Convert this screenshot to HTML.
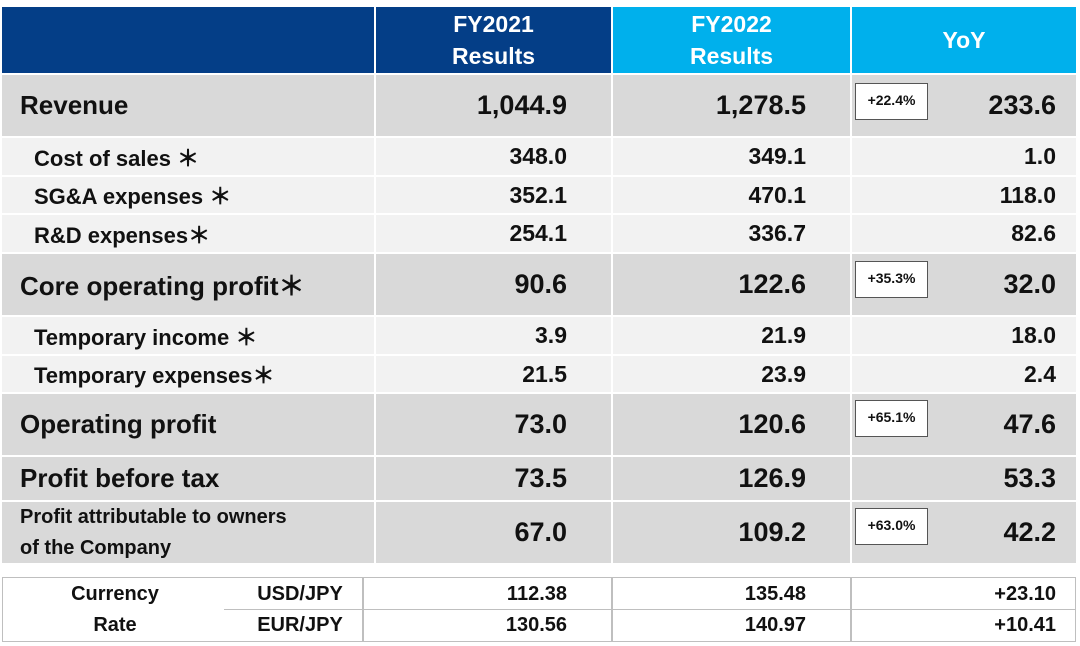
<!DOCTYPE html>
<html><head><meta charset="utf-8"><style>
body{margin:0;width:1080px;height:646px;background:#fff;position:relative;overflow:hidden;font-family:"Liberation Sans",sans-serif;font-weight:bold;color:#111}
div{position:absolute;box-sizing:border-box}
.c{display:flex;align-items:center;white-space:nowrap}
.h{color:#fff;justify-content:center;text-align:center;font-size:23px;line-height:32px}
.l{padding-left:18px}
.r{justify-content:flex-end;padding-right:44px}
.ry{justify-content:flex-end;padding-right:20px}
.box{background:#fff;border:1px solid #555;font-size:14px;display:flex;align-items:flex-start;padding-top:8px;justify-content:center;width:73px;height:37px}
.ln{background:#bfbfbf}
.big{font-size:26px}
.num{font-size:27px}
.sub{font-size:22px;padding-left:32px}
.sn{font-size:23px}
</style></head><body>
<div class="c h" style="left:2px;top:7px;width:372px;height:66px;background:#043e87"></div>
<div class="c h" style="left:376px;top:7px;width:235px;height:66px;background:#043e87">FY2021<br>Results</div>
<div class="c h" style="left:613px;top:7px;width:237px;height:66px;background:#00b0ec">FY2022<br>Results</div>
<div class="c h" style="left:852px;top:7px;width:224px;height:66px;background:#00b0ec">YoY</div>

<div class="c l big" style="left:2px;top:75px;width:372px;height:61px;background:#d9d9d9">Revenue</div>
<div class="c r num" style="left:376px;top:75px;width:235px;height:61px;background:#d9d9d9">1,044.9</div>
<div class="c r num" style="left:613px;top:75px;width:237px;height:61px;background:#d9d9d9">1,278.5</div>
<div class="c ry num" style="left:852px;top:75px;width:224px;height:61px;background:#d9d9d9">233.6</div>
<div class="box" style="left:855px;top:83px">+22.4%</div>

<div class="c l sub" style="left:2px;top:138px;width:372px;height:37px;background:#f2f2f2">Cost of sales ＊</div>
<div class="c r sn" style="left:376px;top:138px;width:235px;height:37px;background:#f2f2f2">348.0</div>
<div class="c r sn" style="left:613px;top:138px;width:237px;height:37px;background:#f2f2f2">349.1</div>
<div class="c ry sn" style="left:852px;top:138px;width:224px;height:37px;background:#f2f2f2">1.0</div>

<div class="c l sub" style="left:2px;top:177px;width:372px;height:36px;background:#f2f2f2">SG&amp;A expenses ＊</div>
<div class="c r sn" style="left:376px;top:177px;width:235px;height:36px;background:#f2f2f2">352.1</div>
<div class="c r sn" style="left:613px;top:177px;width:237px;height:36px;background:#f2f2f2">470.1</div>
<div class="c ry sn" style="left:852px;top:177px;width:224px;height:36px;background:#f2f2f2">118.0</div>

<div class="c l sub" style="left:2px;top:215px;width:372px;height:37px;background:#f2f2f2">R&amp;D expenses＊</div>
<div class="c r sn" style="left:376px;top:215px;width:235px;height:37px;background:#f2f2f2">254.1</div>
<div class="c r sn" style="left:613px;top:215px;width:237px;height:37px;background:#f2f2f2">336.7</div>
<div class="c ry sn" style="left:852px;top:215px;width:224px;height:37px;background:#f2f2f2">82.6</div>

<div class="c l big" style="left:2px;top:254px;width:372px;height:61px;background:#d9d9d9">Core operating profit＊</div>
<div class="c r num" style="left:376px;top:254px;width:235px;height:61px;background:#d9d9d9">90.6</div>
<div class="c r num" style="left:613px;top:254px;width:237px;height:61px;background:#d9d9d9">122.6</div>
<div class="c ry num" style="left:852px;top:254px;width:224px;height:61px;background:#d9d9d9">32.0</div>
<div class="box" style="left:855px;top:261px">+35.3%</div>

<div class="c l sub" style="left:2px;top:317px;width:372px;height:37px;background:#f2f2f2">Temporary income ＊</div>
<div class="c r sn" style="left:376px;top:317px;width:235px;height:37px;background:#f2f2f2">3.9</div>
<div class="c r sn" style="left:613px;top:317px;width:237px;height:37px;background:#f2f2f2">21.9</div>
<div class="c ry sn" style="left:852px;top:317px;width:224px;height:37px;background:#f2f2f2">18.0</div>

<div class="c l sub" style="left:2px;top:356px;width:372px;height:36px;background:#f2f2f2">Temporary expenses＊</div>
<div class="c r sn" style="left:376px;top:356px;width:235px;height:36px;background:#f2f2f2">21.5</div>
<div class="c r sn" style="left:613px;top:356px;width:237px;height:36px;background:#f2f2f2">23.9</div>
<div class="c ry sn" style="left:852px;top:356px;width:224px;height:36px;background:#f2f2f2">2.4</div>

<div class="c l big" style="left:2px;top:394px;width:372px;height:61px;background:#d9d9d9">Operating profit</div>
<div class="c r num" style="left:376px;top:394px;width:235px;height:61px;background:#d9d9d9">73.0</div>
<div class="c r num" style="left:613px;top:394px;width:237px;height:61px;background:#d9d9d9">120.6</div>
<div class="c ry num" style="left:852px;top:394px;width:224px;height:61px;background:#d9d9d9">47.6</div>
<div class="box" style="left:855px;top:400px">+65.1%</div>

<div class="c l big" style="left:2px;top:457px;width:372px;height:43px;background:#d9d9d9">Profit before tax</div>
<div class="c r num" style="left:376px;top:457px;width:235px;height:43px;background:#d9d9d9">73.5</div>
<div class="c r num" style="left:613px;top:457px;width:237px;height:43px;background:#d9d9d9">126.9</div>
<div class="c ry num" style="left:852px;top:457px;width:224px;height:43px;background:#d9d9d9">53.3</div>

<div class="c l" style="left:2px;top:502px;width:372px;height:61px;background:#d9d9d9;font-size:20px;line-height:31px;white-space:normal">Profit attributable to owners<br>of the Company</div>
<div class="c r num" style="left:376px;top:502px;width:235px;height:61px;background:#d9d9d9">67.0</div>
<div class="c r num" style="left:613px;top:502px;width:237px;height:61px;background:#d9d9d9">109.2</div>
<div class="c ry num" style="left:852px;top:502px;width:224px;height:61px;background:#d9d9d9">42.2</div>
<div class="box" style="left:855px;top:508px">+63.0%</div>

<div style="left:2px;top:577px;width:1074px;height:65px;border:1px solid #bfbfbf"></div>
<div class="ln" style="left:362px;top:577px;width:2px;height:65px"></div>
<div class="ln" style="left:611px;top:577px;width:2px;height:65px"></div>
<div class="ln" style="left:850px;top:577px;width:2px;height:65px"></div>
<div class="ln" style="left:224px;top:609px;width:852px;height:1px"></div>
<div class="c" style="left:40px;top:580px;width:150px;height:29px;justify-content:center;font-size:20px">Currency</div>
<div class="c" style="left:40px;top:611px;width:150px;height:29px;justify-content:center;font-size:20px">Rate</div>
<div class="c" style="left:250px;top:580px;width:100px;height:29px;justify-content:center;font-size:20px">USD/JPY</div>
<div class="c" style="left:250px;top:611px;width:100px;height:29px;justify-content:center;font-size:20px">EUR/JPY</div>
<div class="c r" style="left:376px;top:580px;width:235px;height:29px;font-size:20px">112.38</div>
<div class="c r" style="left:376px;top:611px;width:235px;height:29px;font-size:20px">130.56</div>
<div class="c r" style="left:613px;top:580px;width:237px;height:29px;font-size:20px">135.48</div>
<div class="c r" style="left:613px;top:611px;width:237px;height:29px;font-size:20px">140.97</div>
<div class="c ry" style="left:852px;top:580px;width:224px;height:29px;font-size:20px">+23.10</div>
<div class="c ry" style="left:852px;top:611px;width:224px;height:29px;font-size:20px">+10.41</div>
</body></html>
